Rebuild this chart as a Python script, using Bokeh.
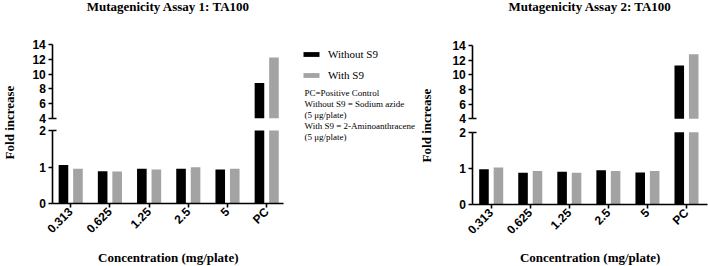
from math import pi
from bokeh.plotting import figure
from bokeh.models import (Range1d, FixedTicker, Label, Legend, LegendItem,
                          ColumnDataSource, LinearAxis)
from bokeh.layouts import row
from bokeh.transform import dodge
from bokeh.embed import file_html
from bokeh.resources import INLINE

# ---------------- data ----------------
categories = ["0.313", "0.625", "1.25", "2.5", "5", "PC"]
assay1_without_s9 = [1.06, 0.89, 0.96, 0.96, 0.94, 8.80]
assay1_with_s9 = [0.96, 0.88, 0.94, 1.00, 0.96, 12.24]
assay2_without_s9 = [0.98, 0.88, 0.91, 0.95, 0.89, 11.26]
assay2_with_s9 = [1.03, 0.93, 0.88, 0.93, 0.93, 12.82]
titles = ["Mutagenicity Assay 1: TA100", "Mutagenicity Assay 2: TA100"]
series_labels = ["Without S9", "With S9"]
lower_ticks = [0, 1, 2]
upper_ticks = [4, 6, 8, 10, 12, 14]
notes = ["PC=Positive Control", "Without S9 = Sodium azide", "(5 \u03bcg/plate)",
         "With S9 = 2-Aminoanthracene", "(5 \u03bcg/plate)"]
y_title = "Fold increase"
x_title = "Concentration (mg/plate)"

# ---------------- style / geometry ----------------
BLACK = "#000000"
GREY = "#A3A3A3"
SERIF = "Liberation Serif"
SANS = "Liberation Sans"
H = 266
BREAK_LO = lower_ticks[-1]
BREAK_HI = upper_ticks[0]
BAR_W = 0.245
OFF = 0.185


def style_axis(ax):
    ax.axis_line_width = 1.6
    ax.axis_line_color = BLACK
    ax.major_tick_line_width = 1.6
    ax.major_tick_line_color = BLACK
    ax.major_tick_out = 4
    ax.major_tick_in = 0
    ax.minor_tick_out = 0
    ax.minor_tick_in = 0
    ax.major_label_text_font = SANS
    ax.major_label_text_font_style = "bold"
    ax.major_label_text_font_size = "12px"
    ax.major_label_text_color = BLACK
    ax.major_label_standoff = 3


def break_mark(tick, loc, range_name="default"):
    # inward half of the tick at the axis break
    ax = LinearAxis(y_range_name=range_name, ticker=FixedTicker(ticks=[tick]),
                    fixed_location=loc, axis_line_color=None,
                    major_tick_in=4, major_tick_out=0,
                    major_tick_line_width=1.6, major_tick_line_color=BLACK,
                    minor_tick_in=0, minor_tick_out=0,
                    major_label_overrides={tick: ""})
    return ax


def base_fig(w, x_range, y_range):
    p = figure(width=w, height=H, x_range=x_range, y_range=y_range,
               x_axis_location=None, y_axis_location=None, min_border=0,
               output_backend="svg", toolbar_location=None)
    p.xgrid.visible = False
    p.ygrid.visible = False
    p.outline_line_color = None
    p.background_fill_color = "white"
    p.border_fill_color = "white"
    return p


def make_panel(title, without, with_, width, axis_px, right_px, tick0_px, pitch,
               zero_px, lower_ppu, up_lo_px, up_hi_px, ylab_px, ylab_py):
    # pixel (canvas-local) -> data helpers
    def xd(px):
        return (px - tick0_px) / pitch

    def yl(py):
        return (zero_px - py) / lower_ppu

    up_ppu = (up_lo_px - up_hi_px) / (upper_ticks[-1] - upper_ticks[0])

    def yu(py):
        return upper_ticks[0] + (up_lo_px - py) / up_ppu

    p = base_fig(width, Range1d(xd(0), xd(width)), Range1d(yl(H), yl(0)))
    p.extra_y_ranges = {"upper": Range1d(yu(H), yu(0))}

    # y axes (broken): lower 0-2, upper 4-14, both at the same x
    ax_lo = LinearAxis(ticker=FixedTicker(ticks=lower_ticks),
                       bounds=(lower_ticks[0], lower_ticks[-1]),
                       fixed_location=xd(axis_px))
    style_axis(ax_lo)
    ax_up = LinearAxis(y_range_name="upper", ticker=FixedTicker(ticks=upper_ticks),
                       bounds=(upper_ticks[0], upper_ticks[-1]),
                       fixed_location=xd(axis_px))
    style_axis(ax_up)
    p.add_layout(ax_lo, "left")
    p.add_layout(ax_up, "left")
    p.add_layout(break_mark(BREAK_LO, xd(axis_px)), "left")
    p.add_layout(break_mark(BREAK_HI, xd(axis_px), "upper"), "left")

    # x axis
    xa = LinearAxis(ticker=FixedTicker(ticks=list(range(len(categories)))),
                    fixed_location=0, bounds=(xd(axis_px), xd(right_px)))
    style_axis(xa)
    xa.major_label_overrides = {i: c for i, c in enumerate(categories)}
    xa.major_label_orientation = pi / 4
    xa.major_label_standoff = 2
    p.add_layout(xa, "below")

    # texts
    p.add_layout(Label(x=xd((axis_px + right_px) / 2), y=yu(6), y_range_name="upper",
                       text=title, text_align="center", text_baseline="middle",
                       text_font=SERIF, text_font_style="bold",
                       text_font_size="13px", text_color=BLACK))
    p.add_layout(Label(x=xd((axis_px + right_px) / 2), y=yl(257),
                       text=x_title, text_align="center", text_baseline="middle",
                       text_font=SERIF, text_font_style="bold",
                       text_font_size="13px", text_color=BLACK))
    p.add_layout(Label(x=xd(ylab_px), y=yl(ylab_py), text=y_title, angle=pi / 2,
                       text_align="center", text_baseline="middle",
                       text_font=SERIF, text_font_style="bold",
                       text_font_size="13px", text_color=BLACK))

    # bars
    src = ColumnDataSource(dict(
        idx=list(range(len(categories))),
        lo_a=[min(v, BREAK_LO) for v in without],
        lo_b=[min(v, BREAK_LO) for v in with_],
        hi_a=[max(v, BREAK_HI) for v in without],
        hi_b=[max(v, BREAK_HI) for v in with_],
    ))
    p.vbar(x=dodge("idx", -OFF), top="lo_a", width=BAR_W, source=src,
           fill_color=BLACK, line_color=None)
    p.vbar(x=dodge("idx", OFF), top="lo_b", width=BAR_W, source=src,
           fill_color=GREY, line_color=None)
    p.vbar(x=dodge("idx", -OFF), bottom=BREAK_HI, top="hi_a", width=BAR_W,
           source=src, fill_color=BLACK, line_color=None, y_range_name="upper")
    p.vbar(x=dodge("idx", OFF), bottom=BREAK_HI, top="hi_b", width=BAR_W,
           source=src, fill_color=GREY, line_color=None, y_range_name="upper")
    return p


panel1 = make_panel(titles[0], assay1_without_s9, assay1_with_s9,
                    width=290, axis_px=52.3, right_px=283.3, tick0_px=70.2, pitch=39.2,
                    zero_px=203.3, lower_ppu=36.6, up_lo_px=117.8, up_hi_px=44.0,
                    ylab_px=8.5, ylab_py=122)

# legend + notes strip (page x 290..418)
LEG_X0 = 290
LEG_W = 128
leg = base_fig(LEG_W, Range1d(0, LEG_W), Range1d(0, H))
r_a = leg.vbar(x=[float("nan")], top=[float("nan")], width=1,
               fill_color=BLACK, line_color=None)
r_b = leg.vbar(x=[float("nan")], top=[float("nan")], width=1,
               fill_color=GREY, line_color=None)
legend = Legend(items=[LegendItem(label=series_labels[0], renderers=[r_a]),
                       LegendItem(label=series_labels[1], renderers=[r_b])],
                location=(301 - LEG_X0, H - 84),
                glyph_width=20, glyph_height=6, label_height=18,
                label_standoff=7, spacing=3, padding=0, margin=0,
                label_text_font=SERIF, label_text_font_size="11px",
                label_text_color=BLACK,
                border_line_color=None, background_fill_alpha=0)
leg.add_layout(legend)
for i, line in enumerate(notes):
    leg.add_layout(Label(x=304 - LEG_X0, y=H - (92 + 11 * i), text=line,
                         text_align="left", text_baseline="middle",
                         text_font=SERIF, text_font_size="9px", text_color=BLACK))

P2_X0 = 418
panel2 = make_panel(titles[1], assay2_without_s9, assay2_with_s9,
                    width=290, axis_px=472.3 - P2_X0, right_px=707 - P2_X0,
                    tick0_px=490.7 - P2_X0, pitch=39.06,
                    zero_px=204.3, lower_ppu=36.3, up_lo_px=118.3, up_hi_px=45.0,
                    ylab_px=425.5 - P2_X0, ylab_py=125)

layout = row(panel1, leg, panel2, spacing=0)

open("out.html", "w").write(file_html(layout, INLINE))
